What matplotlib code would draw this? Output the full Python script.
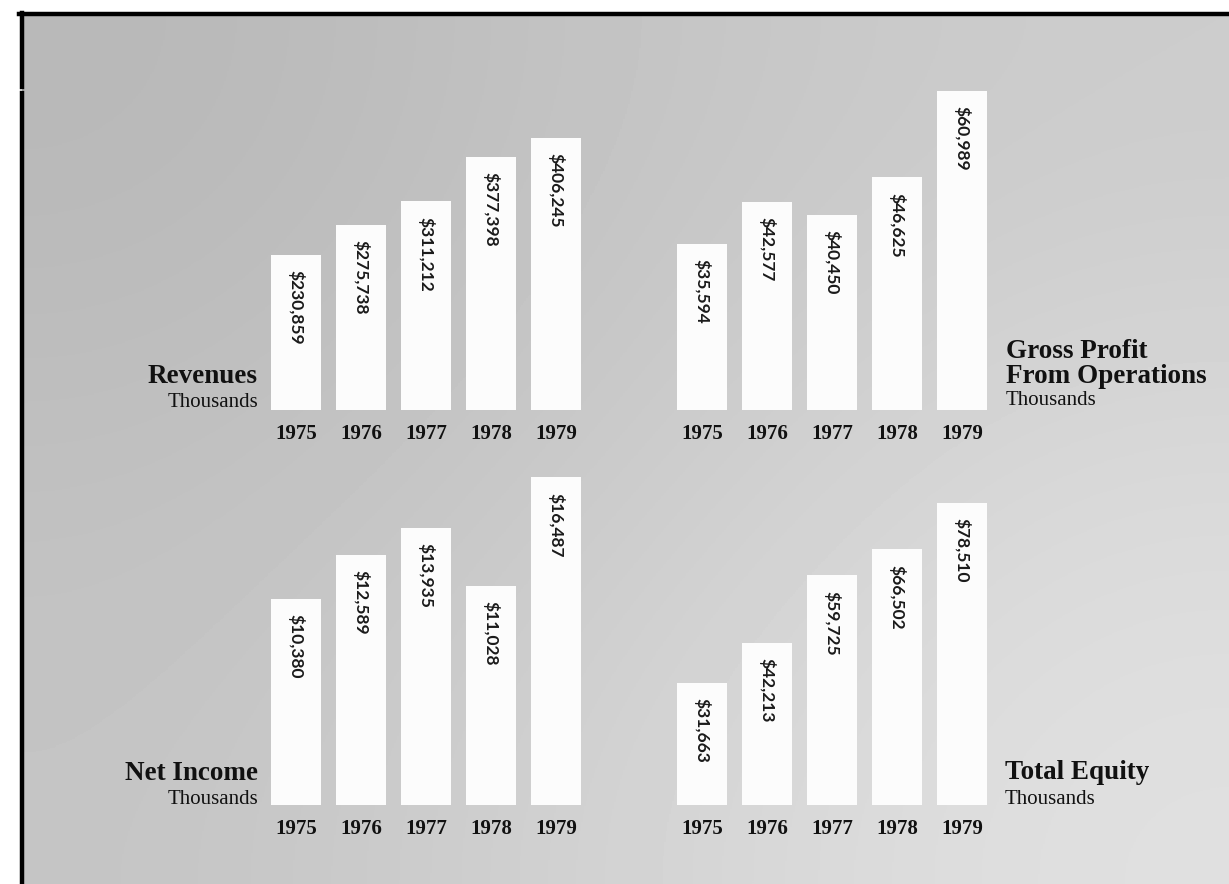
import matplotlib
matplotlib.use("Agg")
import matplotlib.pyplot as plt
from matplotlib.lines import Line2D

# values from the 1979 report page (thousands of dollars)
years = ["1975", "1976", "1977", "1978", "1979"]
revenues = [230859, 275738, 311212, 377398, 406245]
gross_profit = [35594, 42577, 40450, 46625, 60989]
net_income = [10380, 12589, 13935, 11028, 16487]
total_equity = [31663, 42213, 59725, 66502, 78510]

W, H = 1229, 884
SERIF = "Liberation Serif"
NUMFONT = "Lato"


def px_rect(l, t, r, b):
    return [l / W, 1 - b / H, (r - l) / W, (b - t) / H]


def fx(x):
    return x / W


def fy(y):
    return 1 - y / H


fig = plt.figure(figsize=(W / 100, H / 100), dpi=100, facecolor="white")

# scanned grey paper
bg = fig.add_axes(px_rect(22, 15, W, H))
bg.imshow([[0.72, 0.77, 0.80], [0.75, 0.79, 0.85], [0.77, 0.83, 0.88]],
          cmap="gray", vmin=0, vmax=1, interpolation="bicubic", aspect="auto")
bg.set_axis_off()

# frame lines of the page
fig.add_artist(Line2D([fx(19), 1], [fy(14), fy(14)], lw=3.2, color="black"))
fig.add_artist(Line2D([fx(22), fx(22)], [fy(13), fy(87)], lw=3.2, color="black"))
fig.add_artist(Line2D([fx(22), fx(22)], [fy(93), 0], lw=3.2, color="black"))

# (values, units per pixel, baseline, left px, bottom px)
panels = [
    (revenues, 1491, 0, 263.5, 410),
    (gross_profit, 166, 8000, 669.5, 410),
    (net_income, 50.3, 0, 263.5, 805),
    (total_equity, 260, 0, 669.5, 805),
]

for vals, per_px, base, left, bottom in panels:
    ax = fig.add_axes(px_rect(left, bottom - 350, left + 325, bottom))
    ax.patch.set_alpha(0)
    x = range(len(vals))
    ax.bar(x, vals, width=0.77, color="#fcfcfc", edgecolor="none")
    ax.set_xlim(-0.5, 4.5)
    ax.set_ylim(base, base + 350 * per_px)
    for xi, v in zip(x, vals):
        ax.annotate("${:,}".format(v), (xi, v), xytext=(0, -11),
                    textcoords="offset points", rotation=270,
                    ha="center", va="top", fontsize=12.5, fontweight="bold",
                    family=NUMFONT, color="#1a1a1a")
    ax.set_xticks(list(x), years)
    ax.tick_params(axis="x", length=0, pad=10)
    for lbl in ax.get_xticklabels():
        lbl.set_fontfamily(SERIF)
        lbl.set_fontweight("bold")
        lbl.set_fontsize(15)
        lbl.set_color("#111111")
    ax.set_yticks([])
    for s in ax.spines.values():
        s.set_visible(False)

title_kw = dict(family=SERIF, fontweight="bold", fontsize=19.5, color="#111111", va="baseline")
sub_kw = dict(family=SERIF, fontsize=15, color="#111111", va="baseline")

fig.text(fx(258), fy(383), "Revenues", ha="right", **title_kw)
fig.text(fx(258), fy(407), "Thousands", ha="right", **sub_kw)

fig.text(fx(1006), fy(358), "Gross Profit", ha="left", **title_kw)
fig.text(fx(1006), fy(383), "From Operations", ha="left", **title_kw)
fig.text(fx(1006), fy(405), "Thousands", ha="left", **sub_kw)

fig.text(fx(258), fy(780), "Net Income", ha="right", **title_kw)
fig.text(fx(258), fy(804), "Thousands", ha="right", **sub_kw)

fig.text(fx(1005), fy(779), "Total Equity", ha="left", **title_kw)
fig.text(fx(1005), fy(804), "Thousands", ha="left", **sub_kw)

fig.savefig("out.png", dpi=100, facecolor=fig.get_facecolor())
